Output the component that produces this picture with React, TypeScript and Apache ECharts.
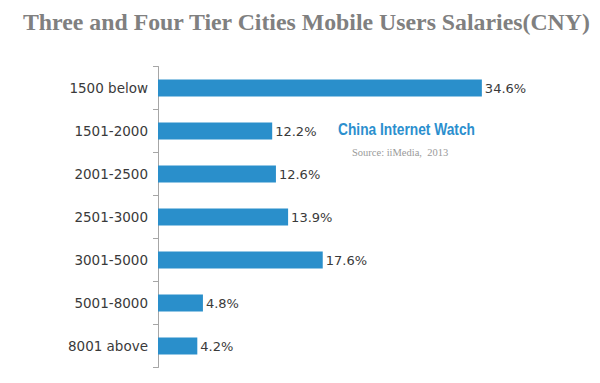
import React, { useEffect, useRef } from "react";
import * as echarts from "echarts";

const categories = ["1500 below", "1501-2000", "2001-2500", "2501-3000", "3001-5000", "5001-8000", "8001 above"];
const values = [34.6, 12.2, 12.6, 13.9, 17.6, 4.8, 4.2];
const titleText = "Three and Four Tier Cities Mobile Users Salaries(CNY)";
const watermark = "China Internet Watch";
const sourceText = "Source: iiMedia,  2013";

export default function App() {
  const ref = useRef<HTMLDivElement>(null);
  useEffect(() => {
    const chart = echarts.init(ref.current!, undefined, { renderer: "svg" });
    chart.setOption({
      animation: false,
      backgroundColor: "#ffffff",
      title: {
        text: titleText,
        left: 18,
        top: 5,
        textStyle: {
          fontFamily: "Liberation Serif",
          fontWeight: "bold",
          fontSize: 23.8,
          color: "#808080",
        },
      },
      graphic: [
        {
          type: "text",
          x: 338,
          y: 121,
          scaleX: 0.86,
          style: {
            text: watermark,
            fontFamily: "Liberation Sans",
            fontWeight: "bold",
            fontSize: 16,
            fill: "#2b8fce",
          },
        },
        {
          type: "text",
          x: 352,
          y: 147,
          style: {
            text: sourceText,
            fontFamily: "Liberation Serif",
            fontSize: 10.5,
            fill: "#9a9a9a",
          },
        },
      ],
      grid: { left: 158, top: 66.5, width: 374.4, height: 301, containLabel: false },
      xAxis: {
        type: "value",
        min: 0,
        max: 40,
        show: false,
      },
      yAxis: {
        type: "category",
        inverse: true,
        data: categories,
        axisLine: { show: true, lineStyle: { color: "#a6a6a6", width: 1 } },
        axisTick: { show: true, length: 5, lineStyle: { color: "#a6a6a6" } },
        axisLabel: {
          fontFamily: "DejaVu Sans",
          fontSize: 13.5,
          color: "#3a3a3a",
          margin: 10,
        },
        splitLine: { show: false },
      },
      series: [
        {
          type: "bar",
          data: values,
          barWidth: 17,
          itemStyle: { color: "#2a8fcb" },
          label: {
            show: true,
            position: "right",
            distance: 3,
            formatter: (p: any) => p.value.toFixed(1) + "%",
            fontFamily: "DejaVu Sans",
            fontSize: 13,
            color: "#3a3a3a",
          },
        },
      ],
    });
    return () => chart.dispose();
  }, []);
  return <div ref={ref} style={{ width: 600, height: 383, margin: -8 }} />;
}
